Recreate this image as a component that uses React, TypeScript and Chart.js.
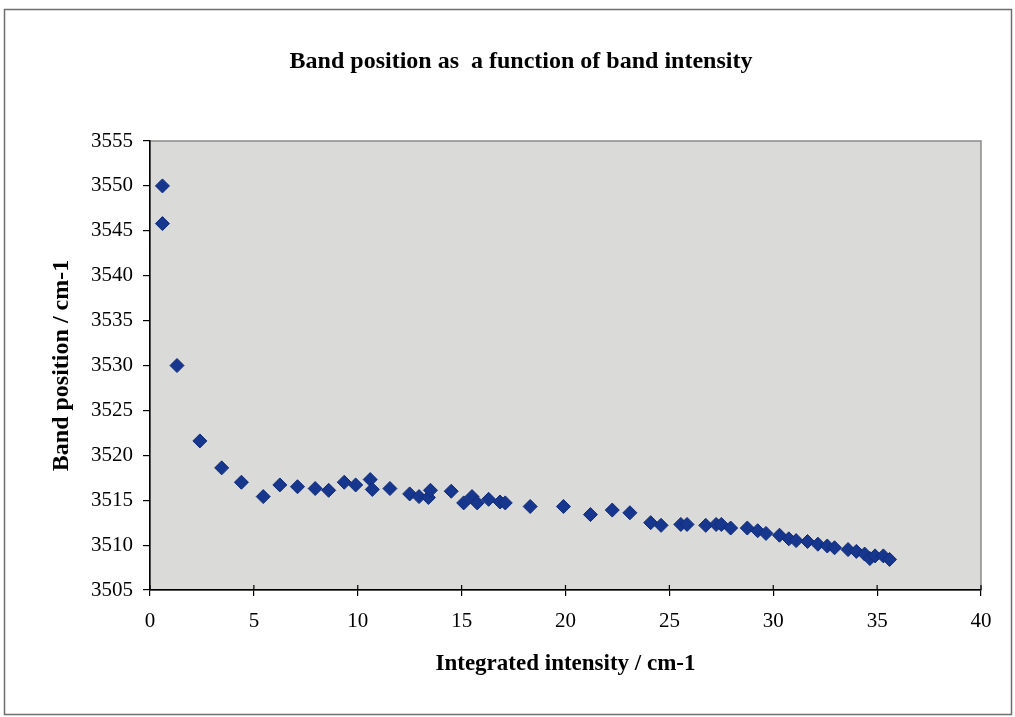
import React, { useEffect, useRef } from "react";
import { Chart, registerables } from "chart.js";

Chart.register(...registerables);

const intensity: number[] = [
  0.6, 0.6, 1.3, 2.4, 3.45, 4.4, 5.45, 6.25, 7.1, 7.95, 8.6, 9.35, 9.9, 10.6, 10.7,
  11.55, 12.5, 12.95, 13.4, 13.5, 14.5, 15.1, 15.5, 15.75, 16.3, 16.85, 17.1, 18.3,
  19.9, 21.2, 22.25, 23.1, 24.1, 24.6, 25.55, 25.85, 26.75, 27.25, 27.5, 27.95, 28.75,
  29.25, 29.65, 30.3, 30.75, 31.1, 31.65, 32.15, 32.6, 32.95, 33.6, 34.0, 34.4, 34.65,
  34.9, 35.3, 35.6,
];
const bandPosition: number[] = [
  3550, 3545.8, 3530, 3521.6, 3518.6, 3517, 3515.4, 3516.7, 3516.5, 3516.3, 3516.1,
  3517, 3516.7, 3517.3, 3516.2, 3516.3, 3515.7, 3515.4, 3515.3, 3516.1, 3516, 3514.7,
  3515.4, 3514.7, 3515.1, 3514.8, 3514.7, 3514.3, 3514.3, 3513.4, 3513.9, 3513.6,
  3512.5, 3512.2, 3512.3, 3512.3, 3512.2, 3512.3, 3512.3, 3511.9, 3511.9, 3511.6,
  3511.3, 3511.1, 3510.7, 3510.5, 3510.4, 3510.1, 3509.9, 3509.7, 3509.5, 3509.3,
  3509.0, 3508.5, 3508.8, 3508.8, 3508.4,
];

const titleText = "Band position as  a function of band intensity";
const xTitle = "Integrated intensity / cm-1";
const yTitle = "Band position / cm-1";
const xMin = 0, xMax = 40, xStep = 5;
const yMin = 3505, yMax = 3555, yStep = 5;

const FONT = "'Liberation Serif', 'Times New Roman', serif";

const framePlugin = {
  id: "frame",
  beforeDraw(chart: any) {
    const { ctx, chartArea: a, width, height } = chart;
    ctx.save();
    ctx.fillStyle = "#ffffff";
    ctx.fillRect(0, 0, width, height);
    ctx.strokeStyle = "#6e6e6e";
    ctx.lineWidth = 1.5;
    ctx.strokeRect(4.5, 9.5, width - 8, height - 12);
    ctx.fillStyle = "#dadad8";
    ctx.fillRect(a.left, a.top, a.right - a.left, a.bottom - a.top);
    ctx.strokeStyle = "#8a8a8a";
    ctx.lineWidth = 1.5;
    ctx.strokeRect(a.left, a.top, a.right - a.left, a.bottom - a.top);
    ctx.restore();
  },
  afterDraw(chart: any) {
    const { ctx, chartArea: a } = chart;
    const xs = chart.scales.x;
    ctx.save();
    ctx.strokeStyle = "#000";
    ctx.lineWidth = 1.2;
    ctx.beginPath();
    xs.ticks.forEach((_t: any, i: number) => {
      const px = xs.getPixelForTick(i);
      ctx.moveTo(px, a.bottom - 5);
      ctx.lineTo(px, a.bottom);
    });
    ctx.stroke();
    // chart title
    ctx.fillStyle = "#000";
    ctx.font = `bold 24px ${FONT}`;
    ctx.textAlign = "center";
    ctx.textBaseline = "middle";
    ctx.fillText(titleText, 521, 62);
    ctx.restore();
  },
};

export default function App() {
  const ref = useRef<HTMLCanvasElement | null>(null);
  useEffect(() => {
    if (!ref.current) return;
    const chart = new Chart(ref.current, {
      type: "scatter",
      data: {
        datasets: [
          {
            label: "Band position",
            data: intensity.map((x, i) => ({ x, y: bandPosition[i] })),
            backgroundColor: "#17378e",
            borderColor: "#102c7a",
            borderWidth: 1,
            pointStyle: "rectRot",
            pointRadius: 7,
          },
        ],
      },
      plugins: [framePlugin],
      options: {
        animation: false,
        responsive: false,
        devicePixelRatio: 1,
        layout: { padding: { left: 0, right: 34, top: 141, bottom: 0 } },
        plugins: {
          legend: { display: false },
          tooltip: { enabled: false },
          title: { display: false },
        },
        scales: {
          x: {
            type: "linear",
            min: xMin,
            max: xMax,
            afterFit(s: any) { s.height = 127; },
            afterBuildTicks(s: any) {
              const t = [];
              for (let v = xMin; v <= xMax; v += xStep) t.push({ value: v });
              s.ticks = t;
            },
            ticks: {
              color: "#000",
              font: { family: FONT, size: 21 },
              padding: 13,
              maxRotation: 0,
            },
            grid: { display: true, drawOnChartArea: false, tickLength: 6, color: "#000", lineWidth: 1.2 },
            border: { display: true, color: "#000", width: 1.5 },
            title: {
              display: true,
              text: xTitle,
              color: "#000",
              font: { family: FONT, size: 23, weight: "bold" },
              padding: { top: 0, bottom: 39 },
            },
          },
          y: {
            type: "linear",
            min: yMin,
            max: yMax,
            afterFit(s: any) { s.width = 150; },
            afterBuildTicks(s: any) {
              const t = [];
              for (let v = yMin; v <= yMax; v += yStep) t.push({ value: v });
              s.ticks = t;
            },
            ticks: {
              color: "#000",
              font: { family: FONT, size: 21 },
              padding: 10,
              callback: (v: any) => String(v),
            },
            grid: { display: true, drawOnChartArea: false, tickLength: 7, color: "#000", lineWidth: 1.2 },
            border: { display: true, color: "#000", width: 1.5 },
            title: {
              display: true,
              text: yTitle,
              color: "#000",
              font: { family: FONT, size: 24, weight: "bold" },
              padding: { top: 47, bottom: 0 },
            },
          },
        },
      },
    });
    return () => chart.destroy();
  }, []);
  return (
    <div style={{ position: "absolute", left: 0, top: 0, width: 1015, height: 717 }}>
      <canvas ref={ref} width={1015} height={717} style={{ width: 1015, height: 717 }} />
    </div>
  );
}
